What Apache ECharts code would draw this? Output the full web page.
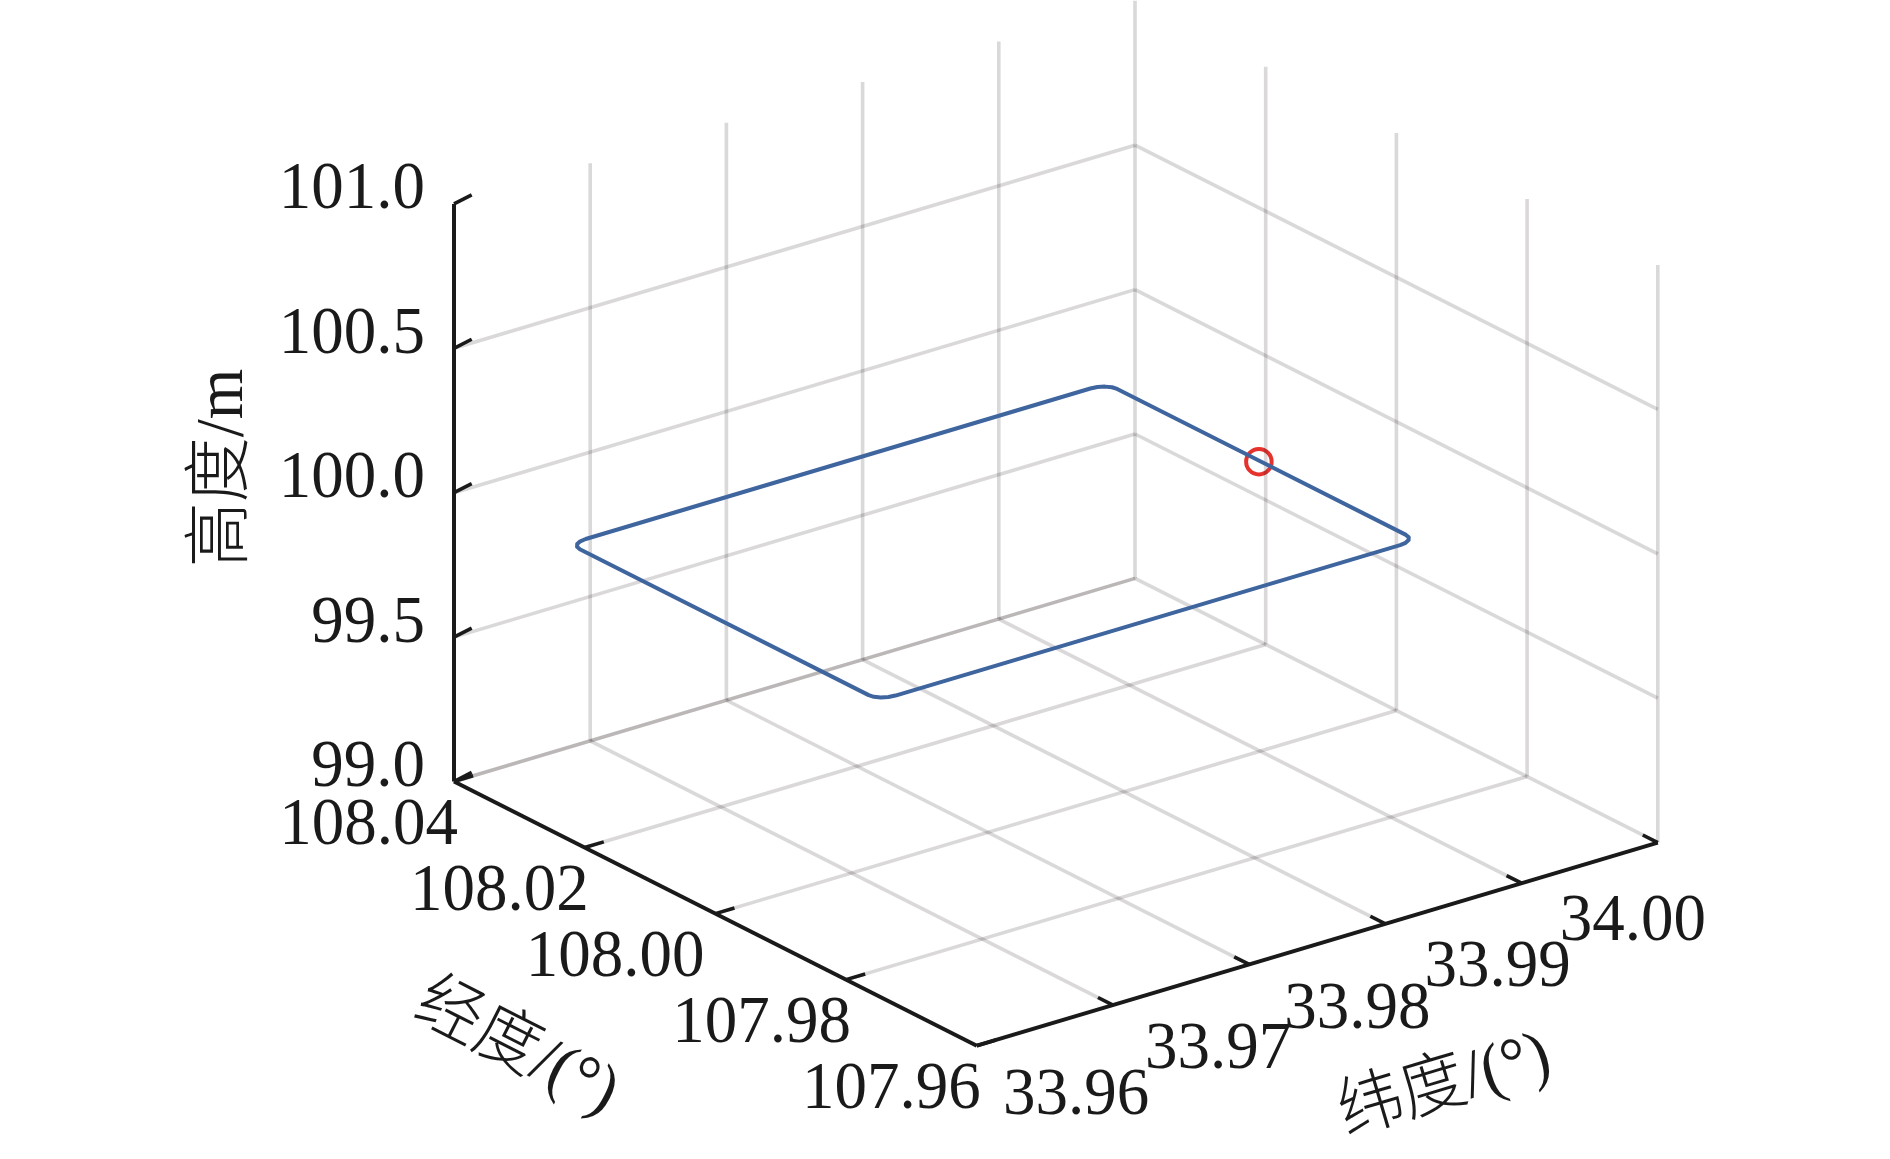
<!DOCTYPE html>
<html>
<head>
<meta charset="utf-8">
<style>
  html, body { margin: 0; padding: 0; background: #fff; }
  #chart { width: 1890px; height: 1159px; }
</style>
<script src="https://cdn.jsdelivr.net/npm/echarts@6/dist/echarts.min.js"></script>
</head>
<body>
<div id="chart"></div>
<script>
// tick values and their labels
var lonTicks = [108.04, 108.02, 108.00, 107.98, 107.96];
var lonLabels = ["108.04", "108.02", "108.00", "107.98", "107.96"];
var latTicks = [33.96, 33.97, 33.98, 33.99, 34.00];
var latLabels = ["33.96", "33.97", "33.98", "33.99", "34.00"];
var altTicks = [99.0, 99.5, 100.0, 100.5, 101.0];
var altLabels = ["99.0", "99.5", "100.0", "100.5", "101.0"];

// flight track
var trackLon = [108.0002, 107.9779, 107.97729, 107.97677, 107.97642, 107.9763,
  107.9763, 107.97642, 107.97677, 107.97729, 107.9779,
  108.0221, 108.02271, 108.02323, 108.02358, 108.0237,
  108.0237, 108.02358, 108.02323, 108.02271, 108.0221, 108.0002];
var trackLat = [33.9901, 33.9901, 33.99001, 33.98975, 33.98936, 33.9889,
  33.95185, 33.95139, 33.951, 33.95074, 33.95065,
  33.95065, 33.95074, 33.951, 33.95139, 33.95185,
  33.9889, 33.98936, 33.98975, 33.99001, 33.9901, 33.9901];
var trackAlt = [100, 100, 100, 100, 100, 100, 100, 100, 100, 100, 100,
  100, 100, 100, 100, 100, 100, 100, 100, 100, 100, 100];
var startPoint = [108.0002, 33.9900, 100];

// box limits
var lonMax = 108.04, lonMin = 107.96, latMin = 33.95, latMax = 34.00, altMin = 99, altMax = 101;

var INK = "#1a1a1a";
var GRID = "rgba(35,24,21,0.17)";
var BLUE = "#3f659f";
var RED = "#e5322d";
var FONT = '"Liberation Serif","Noto Sans CJK SC",serif';

// fixed view of the 3D box on the page
function project(lon, lat, alt) {
  var u = (lonMax - lon) / (lonMax - lonMin);
  var v = (lat - latMin) / (latMax - latMin);
  var w = alt - altMin;
  return [454 + 522.8 * u + 681 * v, 781.5 + 264.2 * u - 203.1 * v - 288.8 * w];
}

function segment(a, b, color, width) {
  return {
    type: "line",
    silent: true,
    showSymbol: false,
    symbol: "none",
    animation: false,
    lineStyle: { color: color, width: width, cap: "butt" },
    data: [project(a[0], a[1], a[2]), project(b[0], b[1], b[2])]
  };
}

var series = [];

// left wall and right wall height lines, 101 is outside the picture
altTicks.slice(0, 4).forEach(function(alt) {
  series.push(segment([lonMax, latMin, alt], [lonMax, latMax, alt], GRID, 3.6));
});
altTicks.slice(1, 4).forEach(function(alt) {
  series.push(segment([lonMax, latMax, alt], [lonMin, latMax, alt], GRID, 3.6));
});
// floor
lonTicks.slice(0, 4).forEach(function(lon) {
  series.push(segment([lon, latMin, altMin], [lon, latMax, altMin], GRID, 3.6));
});
latTicks.forEach(function(lat) {
  series.push(segment([lonMax, lat, altMin], [lonMin, lat, altMin], GRID, 3.6));
});
// verticals
latTicks.forEach(function(lat) {
  series.push(segment([lonMax, lat, altMin], [lonMax, lat, altMax], GRID, 3.6));
});
lonTicks.slice(1).forEach(function(lon) {
  series.push(segment([lon, latMax, altMin], [lon, latMax, altMax], GRID, 3.6));
});

// black axes
series.push(segment([lonMax, latMin, altMin], [lonMax, latMin, altMax], INK, 4));
series.push(segment([lonMax, latMin, altMin], [lonMin, latMin, altMin], INK, 4));
series.push(segment([lonMin, latMin, altMin], [lonMin, latMax, altMin], INK, 4));

// ticks point into the box
altTicks.forEach(function(alt) {
  series.push(segment([lonMax, latMin, alt], [lonMax, latMin + 0.0013, alt + 0.013], INK, 3.6));
});
lonTicks.forEach(function(lon) {
  series.push(segment([lon, latMin, altMin], [lon, latMin + 0.0014, altMin], INK, 3.6));
});
latTicks.forEach(function(lat) {
  series.push(segment([lonMin, lat, altMin], [lonMin + 0.0023, lat, altMin], INK, 3.6));
});

// track
series.push({
  type: "line",
  silent: true,
  showSymbol: false,
  symbol: "none",
  animation: false,
  lineStyle: { color: BLUE, width: 4, join: "round" },
  data: trackLon.map(function(lon, i) { return project(lon, trackLat[i], trackAlt[i]); })
});
series.push({
  type: "scatter",
  silent: true,
  animation: false,
  symbol: "circle",
  symbolSize: 25.5,
  itemStyle: { color: "rgba(0,0,0,0)", borderColor: RED, borderWidth: 4, opacity: 1 },
  data: [project(startPoint[0], startPoint[1], startPoint[2])]
});

// text: [x, y, string, rotation, align, weight]
var texts = [];
altTicks.forEach(function(alt, i) {
  var p = project(lonMax, latMin, alt);
  texts.push([p[0] - 29, p[1] - 13.5, altLabels[i], 0, "right", 400]);
});
var lonNudge = [4, 4, -11, 5, 4];
lonTicks.forEach(function(lon, i) {
  var p = project(lon, latMin, altMin);
  texts.push([p[0] + lonNudge[i], p[1] + 44.5, lonLabels[i], 0, "right", 400]);
});
var latNudgeX = [-37, -31, -28, -24, -25];
var latNudgeY = [91, 86, 86, 85, 79];
latTicks.forEach(function(lat, i) {
  var p = project(lonMin, lat, altMin);
  texts.push([p[0] + latNudgeX[i], p[1] + latNudgeY[i], latLabels[i], 0, "center", 400]);
});
texts.push([224, 468, "高度/m", Math.PI / 2, "center", 200]);
texts.push([516, 1049, "经度/(°)", -0.47, "center", 200]);
texts.push([1445, 1087, "纬度/(°)", 0.29, "center", 200]);

series.push({
  type: "custom",
  silent: true,
  animation: false,
  clip: false,
  data: texts,
  renderItem: function(params, api) {
    var d = texts[params.dataIndex];
    var p = api.coord([d[0], d[1]]);
    return {
      type: "text",
      x: p[0],
      y: p[1],
      rotation: d[3],
      scaleY: 1.05,
      style: {
        text: d[2],
        x: 0,
        y: 0,
        fill: INK,
        font: d[5] + " 65px " + FONT,
        align: d[4],
        verticalAlign: "middle"
      }
    };
  }
});

var chart = echarts.init(document.getElementById("chart"), null, { renderer: "canvas" });
chart.setOption({
  backgroundColor: "#ffffff",
  animation: false,
  grid: { left: 0, right: 0, top: 0, bottom: 0 },
  xAxis: { type: "value", min: 0, max: 1890, show: false },
  yAxis: { type: "value", min: 0, max: 1159, inverse: true, show: false },
  series: series
});
</script>
</body>
</html>
